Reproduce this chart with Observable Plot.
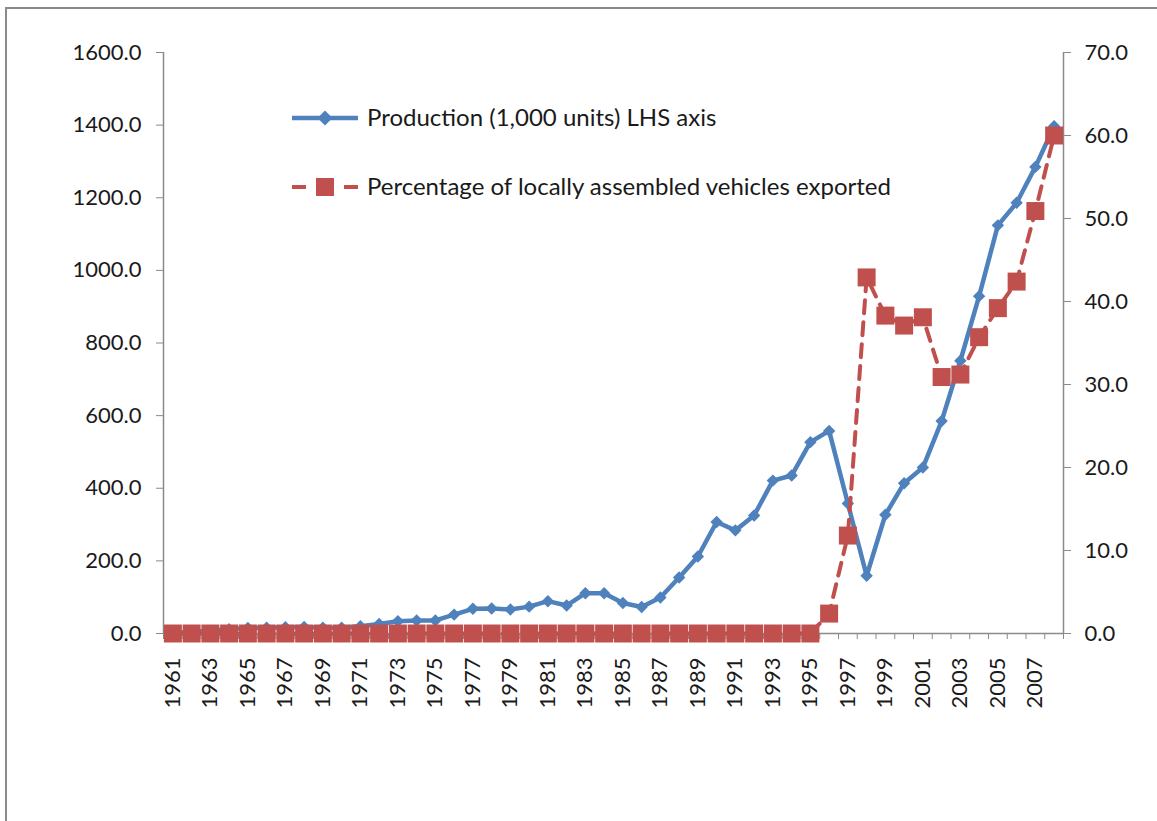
<!DOCTYPE html>
<html><head><meta charset="utf-8">
<script src="https://cdn.jsdelivr.net/npm/d3@7"></script>
<script src="https://cdn.jsdelivr.net/npm/@observablehq/plot@0.6"></script>
<style>
body{margin:0;background:#fff;font-family:Lato,"Open Sans",sans-serif}
#wrap{position:relative;width:1157px;height:821px;overflow:hidden;background:#fff}
#frame{position:absolute;left:5px;top:7px;width:1200px;height:900px;border-top:2px solid #8a8a8a;border-left:2px solid #8a8a8a;pointer-events:none}
.leg{position:absolute;left:290px;width:70px;height:24px}
.legtxt{position:absolute;left:367px;font-size:24px;color:#1a1a1a;line-height:28px;white-space:nowrap}
#chart{position:absolute;left:0;top:0}
</style></head>
<body>
<div id="wrap">
<div id="chart"></div>
<div id="frame"></div>
<svg class="leg" style="top:106px"><line x1="2" x2="68" y1="12" y2="12" stroke="#4F81BD" stroke-width="4.5"/><path d="M35,4.5L42.5,12L35,19.5L27.5,12Z" fill="#4F81BD"/></svg>
<div class="legtxt" style="top:103px">Production (1,000 units) LHS axis</div>
<svg class="leg" style="top:175px"><line x1="2" x2="16" y1="12" y2="12" stroke="#C0504D" stroke-width="4"/><line x1="54" x2="68" y1="12" y2="12" stroke="#C0504D" stroke-width="4"/><rect x="26" y="3" width="18" height="18" fill="#C0504D"/></svg>
<div class="legtxt" style="top:172px">Percentage of locally assembled vehicles exported</div>
</div>
<script>
const years = [1961,1962,1963,1964,1965,1966,1967,1968,1969,1970,1971,1972,1973,1974,1975,1976,1977,1978,1979,1980,1981,1982,1983,1984,1985,1986,1987,1988,1989,1990,1991,1992,1993,1994,1995,1996,1997,1998,1999,2000,2001,2002,2003,2004,2005,2006,2007,2008];
const production = [2,4,8,12,15,16,17,18,16,16,20,26,34,36,36,52,68,69,66,74,89,77,111,111,84,73,99,154,212,307,284,325,421,435,527,558,358,159,327,414,457,585,751,929,1124,1186,1285,1397];
const exportPct = [0,0,0,0,0,0,0,0,0,0,0,0,0,0,0,0,0,0,0,0,0,0,0,0,0,0,0,0,0,0,0,0,0,0,0,2.4,11.8,42.9,38.3,37.1,38.1,30.9,31.2,35.7,39.2,42.4,50.9,60.0];
const leftTicks = [0,200,400,600,800,1000,1200,1400,1600];
const rightTicks = [0,10,20,30,40,50,60,70];
const yearLabels = [1961,1963,1965,1967,1969,1971,1973,1975,1977,1979,1981,1983,1985,1987,1989,1991,1993,1995,1997,1999,2001,2003,2005,2007];

const k = 1600 / 70;
const data = years.map((y, i) => ({year: y, prod: production[i], pct: exportPct[i]}));
const boundaries = years.map(y => y - 0.5).concat([years[years.length - 1] + 0.5]);
const axisGray = "#8a8a8a";

const chart = Plot.plot({
  width: 1157, height: 821,
  marginLeft: 163, marginRight: 94, marginTop: 52, marginBottom: 188,
  x: {type: "linear", domain: [1960.5, 2008.5]},
  y: {domain: [0, 1600]},
  style: {fontFamily: "Lato, 'Open Sans', sans-serif", fontSize: "22px", color: "#1a1a1a", background: "transparent", overflow: "visible"},
  marks: [
    Plot.axisY(leftTicks, {anchor: "left", tickSize: 7, tickPadding: 15, tickFormat: d => d.toFixed(1), label: null, stroke: axisGray}),
    Plot.axisY(rightTicks.map(v => v * k), {anchor: "right", tickSize: 7, tickPadding: 14, tickFormat: d => Math.round(d / k).toFixed(1), label: null, stroke: axisGray}),
    Plot.axisX(boundaries, {anchor: "bottom", tickSize: 6, tickFormat: () => "", label: null, stroke: axisGray}),
    Plot.axisX(yearLabels, {anchor: "bottom", tickSize: 0, tickPadding: 24, tickRotate: -90, tickFormat: d => String(d), label: null}),
    Plot.ruleX([1960.5, 2008.5], {stroke: axisGray, strokeWidth: 1.5}),
    Plot.ruleY([0], {stroke: axisGray, strokeWidth: 1.5}),
    Plot.line(data, {x: "year", y: "prod", stroke: "#4F81BD", strokeWidth: 4.5}),
    Plot.dot(data, {x: "year", y: "prod", symbol: "diamond2", r: 5.6, fill: "#4F81BD", stroke: "none"}),
    Plot.line(data, {x: "year", y: d => d.pct * k, stroke: "#C0504D", strokeWidth: 4, strokeDasharray: "13,9"}),
    Plot.dot(data, {x: "year", y: d => d.pct * k, symbol: "square", r: 10.15, fill: "#C0504D", stroke: "none"})
  ]
});
document.getElementById("chart").appendChild(chart);
</script>
</body></html>
